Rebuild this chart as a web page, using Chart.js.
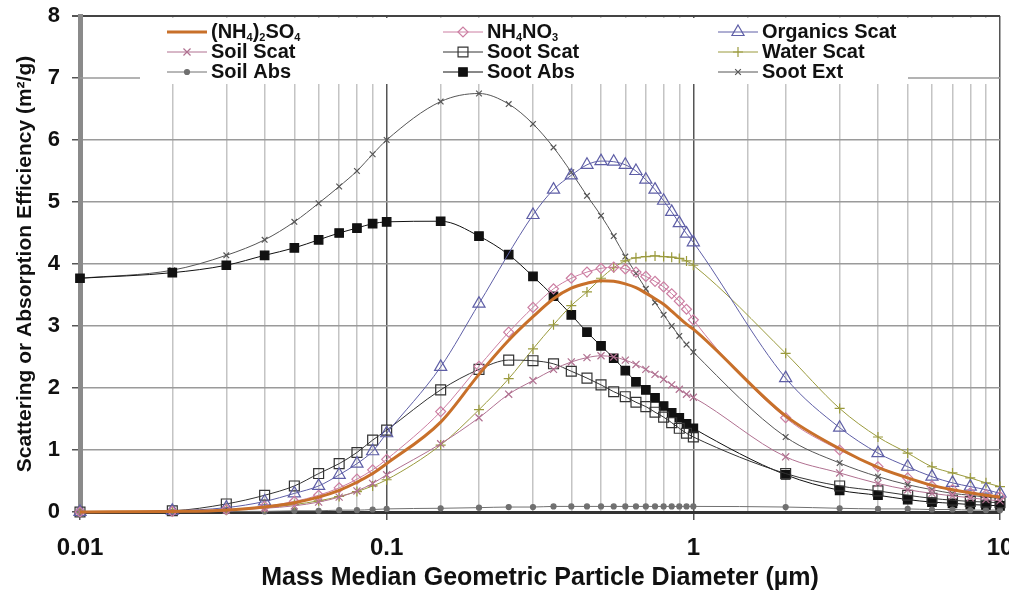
<!DOCTYPE html>
<html>
<head>
<meta charset="utf-8">
<script src="https://cdn.jsdelivr.net/npm/chart.js@4.4.1/dist/chart.umd.min.js"></script>
<style>
  html, body { margin: 0; padding: 0; background: #fff; overflow: hidden; }
  canvas { display: block; }
</style>
</head>
<body>
<canvas id="chart" width="1009" height="595"></canvas>
<script>
// particle diameters (um)
var DIAMETERS = [0.01, 0.02, 0.03, 0.04, 0.05, 0.06, 0.07, 0.08, 0.09, 0.1,
    0.15, 0.2, 0.25, 0.3, 0.35, 0.4, 0.45, 0.5, 0.55, 0.6, 0.65, 0.7, 0.75, 0.8, 0.85, 0.9, 0.95, 1,
    2, 3, 4, 5, 6, 7, 8, 9, 10]

var SERIES_NAMES = ['(NH4)2SO4', 'NH4NO3', 'Organics Scat',
    'Soil Scat', 'Soot Scat', 'Water Scat',
    'Soil Abs', 'Soot Abs', 'Soot Ext']

var AMMSULF = [0, 0.01, 0.03, 0.08, 0.15, 0.24, 0.35, 0.48, 0.62, 0.78,
    1.45, 2.22, 2.77, 3.15, 3.44, 3.61, 3.69, 3.73, 3.72, 3.68, 3.62, 3.53, 3.44, 3.35, 3.24, 3.13, 3.03, 2.95,
    1.55, 1.02, 0.72, 0.55, 0.43, 0.36, 0.31, 0.27, 0.24]
var AMMNIT = [0, 0.01, 0.04, 0.09, 0.17, 0.27, 0.39, 0.53, 0.68, 0.85,
    1.62, 2.35, 2.9, 3.3, 3.6, 3.77, 3.87, 3.93, 3.95, 3.92, 3.87, 3.8, 3.72, 3.63, 3.52, 3.4, 3.27, 3.1,
    1.52, 1.0, 0.73, 0.55, 0.42, 0.36, 0.31, 0.28, 0.25]
var ORGANICS = [0, 0.02, 0.07, 0.17, 0.3, 0.42, 0.6, 0.78, 0.98, 1.27,
    2.34, 3.36, null, 4.79, 5.2, 5.43, 5.6, 5.66, 5.65, 5.6, 5.5, 5.36, 5.2, 5.02, 4.84, 4.66, 4.49, 4.35,
    2.16, 1.36, 0.95, 0.73, 0.57, 0.47, 0.41, 0.36, 0.3]
var SOIL_SCAT = [0, 0.01, 0.03, 0.06, 0.1, 0.16, 0.24, 0.34, 0.46, 0.6,
    1.1, 1.52, 1.9, 2.12, 2.3, 2.42, 2.49, 2.52, 2.5, 2.45, 2.38, 2.3, 2.22, 2.14, 2.05, 1.98, 1.9, 1.85,
    0.89, 0.63, 0.46, 0.36, 0.3, 0.26, 0.23, 0.2, 0.18]
var SOOT_SCAT = [0, 0.02, 0.13, 0.27, 0.42, 0.62, 0.78, 0.96, 1.16, 1.32,
    1.97, 2.3, 2.45, 2.44, 2.39, 2.27, 2.16, 2.05, 1.94, 1.86, 1.77, 1.7, 1.61, 1.53, 1.44, 1.35, 1.27, 1.21,
    0.62, 0.42, 0.34, 0.27, 0.22, 0.19, 0.17, 0.16, 0.15]
var WATER_SCAT = [0, 0.01, 0.03, 0.07, 0.12, 0.18, 0.25, 0.33, 0.42, 0.52,
    1.08, 1.65, 2.15, 2.63, 3.02, 3.33, 3.55, 3.77, 3.94, 4.05, 4.1, 4.12, 4.13, 4.12, 4.11, 4.09, 4.05, 3.98,
    2.56, 1.67, 1.21, 0.95, 0.73, 0.63, 0.55, 0.47, 0.41]
var SOIL_ABS = [0, 0, 0.01, 0.01, 0.02, 0.02, 0.03, 0.03, 0.04, 0.05,
    0.06, 0.07, 0.08, 0.08, 0.09, 0.09, 0.09, 0.09, 0.09, 0.09, 0.09, 0.09, 0.09, 0.09, 0.09, 0.09, 0.09, 0.09,
    0.08, 0.06, 0.05, 0.05, 0.04, 0.04, 0.03, 0.03, 0.03]
var SOOT_ABS = [3.77, 3.86, 3.98, 4.14, 4.26, 4.39, 4.5, 4.58, 4.65, 4.68,
    4.69, 4.45, 4.15, 3.8, 3.48, 3.18, 2.9, 2.68, 2.48, 2.28, 2.1, 1.97, 1.84, 1.71, 1.6, 1.52, 1.42, 1.35,
    0.6, 0.35, 0.27, 0.2, 0.16, 0.14, 0.12, 0.11, 0.1]
var SOOT_EXT = [3.77, 3.9, 4.14, 4.39, 4.68, 4.98, 5.25, 5.5, 5.77, 6.0,
    6.62, 6.75, 6.58, 6.26, 5.88, 5.48, 5.1, 4.78, 4.45, 4.12, 3.85, 3.6, 3.38, 3.18, 3.0, 2.84, 2.7, 2.58,
    1.21, 0.79, 0.57, 0.44, 0.36, 0.3, 0.27, 0.24, 0.22]

var X_TICK_LABELS = ['0.01', '0.1', '1', '10']

var FONT = '"Liberation Sans", Arial, sans-serif'

function isDecade(v) {
    var l = Math.log10(v)
    return Math.abs(l - Math.round(l)) < 1e-6
}

function pts(values) {
    return DIAMETERS.map(function (x, i) { return { x: x, y: values[i] } })
}

// style of each series: color, marker
function series(i, values, color, style, radius, fill, width) {
    return {
        label: SERIES_NAMES[i],
        data: pts(values),
        borderColor: color,
        borderWidth: width || 1,
        pointStyle: style,
        pointRadius: radius,
        pointBorderColor: color,
        pointBackgroundColor: fill || 'rgba(255,255,255,0)',
        pointBorderWidth: 1.2,
        pointHoverRadius: radius,
        cubicInterpolationMode: 'monotone',
        spanGaps: true,
        clip: false
    }
}

// draw label with digits as subscripts
function drawLabel(ctx, text, x, y) {
    var parts = text.match(/\d+|\D+/g)
    var cx = x
    parts.forEach(function (p) {
        var sub = /^\d+$/.test(p)
        ctx.font = sub ? 'bold 11px ' + FONT : 'bold 20px ' + FONT
        ctx.fillText(p, cx, sub ? y + 6 : y)
        cx += ctx.measureText(p).width
    })
}

var legendCols = [167, 443, 718]
var legendRows = [32, 52, 72]

var gridLegend = {
    id: 'gridLegend',
    beforeDatasetsDraw: function (chart) {
        var ctx = chart.ctx
        var area = chart.chartArea
        var y7 = chart.scales.y.getPixelForValue(7)
        ctx.save()
        // blank the grid behind the legend, keep the short bits of the 7 line
        ctx.fillStyle = '#fff'
        ctx.fillRect(area.left + 3, area.top + 2, area.right - area.left - 5, 66)
        ctx.strokeStyle = '#9a9a9a'
        ctx.lineWidth = 1.5
        ctx.beginPath()
        ctx.moveTo(area.left, y7)
        ctx.lineTo(140, y7)
        ctx.moveTo(908, y7)
        ctx.lineTo(area.right, y7)
        ctx.stroke()
        chart.data.datasets.forEach(function (ds, i) {
            var x = legendCols[i % 3]
            var y = legendRows[Math.floor(i / 3)]
            ctx.strokeStyle = ds.borderColor
            ctx.lineWidth = ds.borderWidth
            ctx.beginPath()
            ctx.moveTo(x, y)
            ctx.lineTo(x + 40, y)
            ctx.stroke()
            if (ds.pointRadius > 0) {
                ctx.lineWidth = ds.pointBorderWidth
                ctx.fillStyle = ds.pointBackgroundColor
                Chart.helpers.drawPoint(ctx, {
                    pointStyle: ds.pointStyle,
                    radius: ds.pointRadius,
                    rotation: 0,
                    borderWidth: ds.pointBorderWidth
                }, x + 20, y)
            }
            ctx.fillStyle = '#111'
            ctx.textBaseline = 'middle'
            ctx.textAlign = 'left'
            drawLabel(ctx, ds.label, x + 44, y)
        })
        ctx.restore()
    }
}

var ctx = document.getElementById('chart').getContext('2d')
var chart = new Chart(ctx, {
    type: 'line',
    data: {
        datasets: [
            series(0, AMMSULF, '#c8702a', 'line', 0, null, 3),
            series(1, AMMNIT, '#cc7ea2', 'rectRot', 5),
            series(2, ORGANICS, '#5e5ea6', 'triangle', 7),
            series(3, SOIL_SCAT, '#b07090', 'crossRot', 5),
            series(4, SOOT_SCAT, '#333333', 'rect', 7),
            series(5, WATER_SCAT, '#9a9a3c', 'cross', 5),
            series(6, SOIL_ABS, '#707070', 'circle', 2.5, '#707070'),
            series(7, SOOT_ABS, '#111111', 'rect', 6, '#111111'),
            series(8, SOOT_EXT, '#555555', 'crossRot', 4)
        ]
    },
    options: {
        responsive: false,
        animation: false,
        devicePixelRatio: 1,
        layout: { padding: { top: 16, right: 9, left: 0, bottom: 0 } },
        plugins: {
            legend: { display: false },
            tooltip: { enabled: false }
        },
        scales: {
            x: {
                type: 'logarithmic',
                min: 0.01,
                max: 10,
                afterFit: function (s) { s.height = 83; s.paddingLeft = 0; s.paddingRight = 0 },
                border: { color: '#333', width: 3 },
                grid: {
                    color: function (c) {
                        var v = c.tick && c.tick.value
                        if (v && isDecade(v)) return '#555'
                        return '#c4c4c4'
                    },
                    lineWidth: 1.5,
                    tickLength: 8,
                    tickColor: function (c) {
                        var v = c.tick && c.tick.value
                        return v && isDecade(v) ? '#555' : 'rgba(0,0,0,0)'
                    }
                },
                ticks: {
                    autoSkip: false,
                    maxRotation: 0,
                    padding: 14,
                    color: '#111',
                    font: { family: FONT, size: 24, weight: 'bold' },
                    callback: function (v) {
                        return isDecade(v) ? X_TICK_LABELS[Math.round(Math.log10(v)) + 2] : ''
                    }
                },
                title: {
                    display: true,
                    text: 'Mass Median Geometric Particle Diameter (µm)',
                    color: '#111',
                    font: { family: FONT, size: 25, weight: 'bold' },
                    padding: { top: 0, bottom: 2 }
                }
            },
            y: {
                min: 0,
                max: 8,
                afterFit: function (s) { s.width = 80; s.paddingTop = 0; s.paddingBottom = 0 },
                border: { color: '#8a8a8a', width: 5 },
                grid: {
                    color: function (c) {
                        var v = c.tick && c.tick.value
                        if (v === 8) return '#444'
                        return '#9a9a9a'
                    },
                    lineWidth: function (c) {
                        return c.tick && c.tick.value === 8 ? 2 : 1.5
                    },
                    tickLength: 8,
                    tickColor: '#555'
                },
                ticks: {
                    stepSize: 1,
                    padding: 12,
                    color: '#111',
                    font: { family: FONT, size: 22, weight: 'bold' }
                },
                title: {
                    display: true,
                    text: 'Scattering or Absorption Efficiency (m²/g)',
                    color: '#111',
                    font: { family: FONT, size: 21, weight: 'bold' },
                    padding: { top: 13, bottom: 0 }
                }
            }
        }
    },
    plugins: [gridLegend]
})
</script>
</body>
</html>
